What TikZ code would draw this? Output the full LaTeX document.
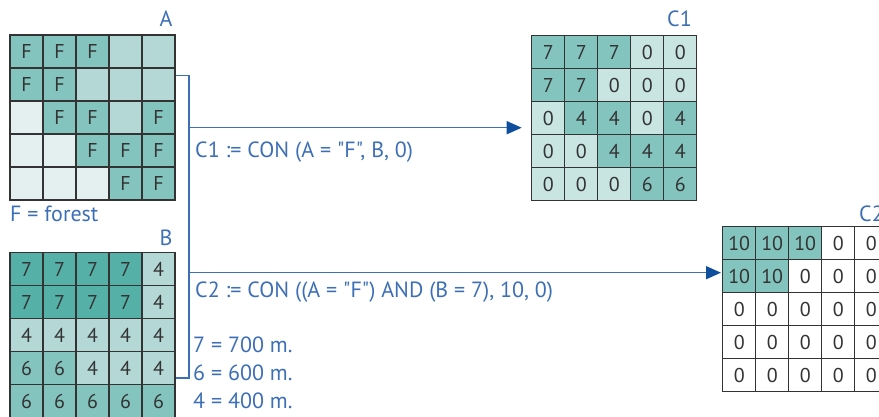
\documentclass[tikz,border=0pt]{standalone}
\usepackage{fontspec}
\setmainfont{PT Sans}[Ligatures=TeXOff]
\usetikzlibrary{arrows.meta}
\definecolor{tmed}{HTML}{84C4BE}
\definecolor{tlig}{HTML}{B3D8D6}
\definecolor{tvlg}{HTML}{E4F0F0}
\definecolor{tdrk}{HTML}{55B0A8}
\definecolor{tcl}{HTML}{C9E5E2}
\definecolor{gridc}{HTML}{333333}
\definecolor{lblue}{HTML}{3D6FB6}
\definecolor{ablue}{HTML}{0F4E9C}
\tikzset{
  cell/.style={draw=gridc, line width=1.5pt, minimum size=33pt, inner sep=0pt, text=gridc, font=\fontsize{20}{22}\selectfont},
  lbl/.style={text=lblue, inner sep=0pt, font=\fontsize{22}{24}\selectfont},
  conn/.style={draw=lblue, line width=1.5pt},
  arr/.style={conn, -{Triangle[length=15pt,width=13pt,fill=ablue,color=ablue]}}
}
\newcommand{\rgrid}[4]{% name, x0, y0, list
  \foreach \v/\c [count=\i from 0] in {#4} {
    \pgfmathtruncatemacro{\rr}{\i/5}
    \pgfmathtruncatemacro{\cc}{mod(\i,5)}
    \node[cell, fill=\c] (#1-\rr-\cc) at ({#2+16.5+33*\cc},{#3+16.5+33*\rr}) {\v};
  }
}
\begin{document}
\begin{tikzpicture}[x=1pt,y=-1pt]
\useasboundingbox (0,0) rectangle (879,416);
\rgrid{A}{10}{35}{F/tmed,F/tmed,F/tmed,/tlig,/tlig,
 F/tmed,F/tmed,/tlig,/tlig,/tlig,
 /tvlg,F/tmed,F/tmed,/tlig,F/tmed,
 /tvlg,/tvlg,F/tmed,F/tmed,F/tmed,
 /tvlg,/tvlg,/tvlg,F/tmed,F/tmed}
\rgrid{B}{10}{252.7}{7/tdrk,7/tdrk,7/tdrk,7/tdrk,4/tlig,
 7/tdrk,7/tdrk,7/tdrk,7/tdrk,4/tlig,
 4/tlig,4/tlig,4/tlig,4/tlig,4/tlig,
 6/tmed,6/tmed,4/tlig,4/tlig,4/tlig,
 6/tmed,6/tmed,6/tmed,6/tmed,6/tmed}
\rgrid{C1}{531.7}{35.7}{7/tmed,7/tmed,7/tmed,0/tcl,0/tcl,
 7/tmed,7/tmed,0/tcl,0/tcl,0/tcl,
 0/tcl,4/tmed,4/tmed,0/tcl,4/tmed,
 0/tcl,0/tcl,4/tmed,4/tmed,4/tmed,
 0/tcl,0/tcl,0/tcl,6/tmed,6/tmed}
\rgrid{C2}{722.7}{226.7}{10/tmed,10/tmed,10/tmed,0/white,0/white,
 10/tmed,10/tmed,0/white,0/white,0/white,
 0/white,0/white,0/white,0/white,0/white,
 0/white,0/white,0/white,0/white,0/white,
 0/white,0/white,0/white,0/white,0/white}
% labels
\node[lbl, anchor=base] (la) at (166,26) {A};
\node[lbl, anchor=base] (lb) at (166,245) {B};
\node[lbl, anchor=base west] (lc1) at (667,26.7) {C1};
\node[lbl, anchor=base west] (lc2) at (859,221.7) {C2};
\node[lbl, anchor=base west] (lf) at (10,221) {F = forest};
\node[lbl, anchor=base west] (f1) at (195,157) {C1 := CON (A = "F", B, 0)};
\node[lbl, anchor=base west] (f2) at (195,297.5) {C2 := CON ((A = "F") AND (B = 7), 10, 0)};
\node[lbl, anchor=base west] (h7) at (193,352) {7 = 700 m.};
\node[lbl, anchor=base west] (h6) at (193,380) {6 = 600 m.};
\node[lbl, anchor=base west] (h4) at (193,408) {4 = 400 m.};
% connectors
\coordinate (aout) at (A-1-4.east |- 0,75.7);
\coordinate (bout) at (B-3-4.east |- 0,378);
\coordinate (ttop) at (189,75.7);
\coordinate (tbot) at (189,378);
\coordinate (t1) at (189,127.7);
\coordinate (t2) at (189,272.7);
\coordinate (c1in) at (521.7,127.7);
\coordinate (c2in) at (721,272.7);
\draw[conn] (aout) -- (ttop) -- (tbot) -- (bout);
\draw[arr] (t1) -- (c1in);
\draw[arr] (t2) -- (c2in);
\end{tikzpicture}
\end{document}
